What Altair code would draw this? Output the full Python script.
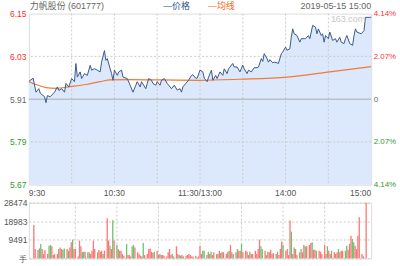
import altair as alt
import pandas as pd

# ---------------- data ----------------
prev_close = 5.91
price_lo, price_hi = 5.6653, 6.1547
price_ticks = [5.6653, 5.78765, 5.91, 6.03235, 6.1547]
grid_minutes = [30, 60, 90, 120, 150, 180, 210]
x_tick_minutes = [0, 60, 120, 180, 240]
x_tick_labels = ["9:30", "10:30", "11:30/13:00", "14:00", "15:00"]

price_min = [0, 3, 5, 7, 8, 11, 12, 13, 15, 18, 20, 21, 23, 25, 26, 28, 30, 32, 33, 34,
             36, 37, 39, 41, 43, 44, 46, 48, 50, 51, 53, 54, 55, 57, 58, 59, 60, 62, 63, 65,
             66, 69, 71, 73, 75, 76, 78, 79, 82, 83, 84, 86, 87, 89, 90, 92, 93, 95, 97, 98,
             100, 102, 104, 106, 107, 108, 110, 112, 114, 115, 117, 118, 120, 122, 123, 125, 126, 128, 129, 131,
             132, 134, 136, 137, 139, 140, 143, 144, 146, 148, 150, 151, 153, 154, 156, 158, 160, 161, 163, 164,
             165, 167, 168, 169, 171, 172, 174, 175, 177, 178, 180, 181, 183, 184, 185, 186, 188, 190, 191, 193,
             194, 196, 197, 199, 201, 202, 203, 205, 206, 207, 208, 210, 211, 213, 215, 216, 218, 219, 221, 222,
             223, 225, 227, 228, 229, 230, 233, 235, 236, 239, 240]
price_val = [5.961, 5.970, 5.930, 5.940, 5.927, 5.917, 5.900, 5.920, 5.917, 5.930, 5.945, 5.935, 5.940, 5.930, 5.955, 5.945, 5.969, 5.960, 6.012, 5.973,
             5.988, 5.969, 5.983, 5.978, 6.007, 5.993, 5.997, 5.993, 5.988, 6.016, 6.049, 6.021, 6.026, 5.997, 5.983, 5.964, 5.993, 5.978, 5.988, 5.993,
             5.973, 5.969, 5.950, 5.930, 5.950, 5.960, 5.945, 5.960, 5.940, 5.955, 5.969, 5.964, 5.955, 5.950, 5.960, 5.950, 5.964, 5.969, 5.955, 5.950,
             5.940, 5.950, 5.936, 5.940, 5.930, 5.945, 5.955, 5.964, 5.978, 5.980, 5.970, 5.970, 5.993, 5.988, 5.970, 5.960, 5.973, 5.993, 5.964, 5.978,
             5.969, 5.988, 5.978, 5.997, 5.983, 5.997, 6.012, 6.002, 6.002, 5.988, 6.007, 5.997, 5.983, 5.993, 5.988, 6.000, 6.000, 6.002, 6.026, 6.018,
             6.040, 6.026, 6.016, 6.023, 6.014, 6.016, 6.014, 6.012, 6.040, 6.045, 6.059, 6.050, 6.054, 6.087, 6.111, 6.097, 6.092, 6.073, 6.083, 6.083,
             6.083, 6.092, 6.083, 6.121, 6.116, 6.097, 6.111, 6.092, 6.097, 6.073, 6.092, 6.083, 6.102, 6.078, 6.083, 6.073, 6.087, 6.073, 6.069, 6.083,
             6.092, 6.069, 6.064, 6.092, 6.111, 6.102, 6.097, 6.106, 6.144, 6.144, 6.144]

avg_min = [0, 5, 12, 19, 29, 40, 50, 57, 70, 92, 120, 148, 181, 211, 240]
avg_val = [5.960, 5.952, 5.943, 5.941, 5.946, 5.952, 5.960, 5.965, 5.966, 5.965, 5.964, 5.967, 5.973, 5.988, 6.003]

vol_max = 28474
vol_ticks = [0, 9491, 18983, 28474]
vol_min = [0, 1, 3, 4, 5, 6, 7, 8, 10, 11, 12, 13, 14, 15, 17, 18, 19, 20, 21, 22,
           24, 25, 26, 27, 28, 29, 30, 32, 33, 34, 35, 36, 37, 39, 40, 41, 42, 43, 44, 46,
           47, 48, 49, 50, 51, 53, 54, 55, 56, 57, 58, 60, 61, 62, 63, 64, 65, 67, 68, 69,
           70, 71, 72, 73, 75, 76, 77, 78, 79, 80, 82, 83, 84, 85, 86, 87, 89, 90, 91, 92,
           93, 94, 96, 97, 98, 99, 100, 101, 103, 104, 105, 106, 107, 108, 110, 111, 112, 113, 114, 115,
           117, 118, 119, 120, 121, 122, 123, 125, 126, 127, 128, 129, 130, 132, 133, 134, 135, 136, 137, 139,
           140, 141, 142, 143, 144, 146, 147, 148, 149, 150, 151, 153, 154, 155, 156, 157, 158, 160, 161, 162,
           163, 164, 165, 167, 168, 169, 170, 171, 172, 173, 175, 176, 177, 178, 179, 180, 182, 183, 184, 185,
           186, 187, 188, 189, 190, 192, 193, 194, 195, 196, 197, 199, 200, 201, 202, 203, 204, 206, 207, 208,
           210, 211, 212, 213, 214, 215, 217, 218, 219, 220, 221, 222, 223, 225, 226, 227, 228, 229, 230, 231,
           232, 233, 234, 235, 237, 238, 240]
vol_val = [17100, 4800, 4300, 5100, 7400, 4800, 2200, 4300, 2200, 6500, 6800, 6200, 1700, 2200, 2200, 4800, 5600, 4800, 4400, 5100,
           4800, 3900, 5600, 8200, 9600, 4800, 4800, 1000, 9100, 6200, 3100, 3400, 3400, 3100, 3100, 2200, 3900, 9100, 4800, 3100,
           4300, 3400, 3900, 2200, 3900, 20500, 9100, 6500, 4800, 19500, 9100, 6800, 4800, 3900, 3900, 2200, 1400, 7400, 1700, 1700,
           1000, 6200, 6800, 5600, 3100, 2200, 1400, 1000, 7900, 1700, 2200, 4800, 5100, 3400, 2700, 3400, 3900, 1700, 2200, 1700,
           1700, 1400, 1000, 3100, 4800, 1700, 2200, 1000, 6200, 2200, 1700, 1400, 1700, 1000, 1400, 1700, 2200, 1700, 1000, 1000,
           1400, 500, 1000, 6500, 2200, 3900, 3900, 1700, 3400, 2200, 3400, 1700, 3100, 2200, 2200, 3900, 2700, 3400, 3100, 2200,
           3100, 3900, 6800, 3100, 2200, 3100, 4800, 3900, 3900, 7400, 3100, 3900, 3400, 1700, 3400, 2200, 2200, 3900, 2200, 4800,
           9600, 6200, 4800, 3900, 1700, 3400, 3100, 4400, 2200, 2700, 2200, 3400, 1700, 4800, 8600, 6800, 3900, 4800, 1700, 19300,
           13700, 2200, 5600, 4800, 1700, 3100, 4800, 3100, 6800, 6200, 6200, 6800, 7900, 8200, 4400, 4400, 3900, 3900, 3400, 2200,
           6800, 2200, 6200, 3900, 2200, 3900, 3100, 2200, 3100, 4800, 3100, 3900, 3900, 3900, 6500, 4400, 7400, 11600, 9900, 8200,
           6500, 4800, 11600, 21000, 2200, 1000, 28474]
vol_dir = ["r", "r", "r", "g", "g", "r", "r", "r", "r", "g", "g", "r", "r", "r", "r", "g", "r", "r", "g", "g",
           "r", "g", "r", "r", "g", "r", "r", "r", "r", "r", "g", "g", "r", "r", "g", "r", "r", "r", "r", "g",
           "r", "r", "r", "g", "r", "r", "r", "g", "r", "g", "r", "g", "r", "g", "r", "r", "r", "g", "r", "r",
           "r", "g", "g", "r", "r", "r", "r", "r", "g", "r", "r", "r", "r", "r", "r", "g", "r", "r", "g", "r",
           "r", "r", "r", "r", "r", "r", "g", "r", "r", "r", "g", "g", "r", "r", "r", "r", "r", "r", "r", "r",
           "r", "r", "r", "r", "r", "g", "g", "r", "g", "r", "g", "r", "r", "g", "r", "r", "r", "g", "r", "r",
           "r", "g", "r", "r", "g", "r", "g", "r", "r", "g", "r", "r", "r", "r", "g", "r", "r", "r", "r", "r",
           "r", "g", "g", "r", "r", "g", "r", "r", "r", "r", "r", "g", "r", "r", "r", "g", "r", "r", "r", "r",
           "g", "r", "g", "r", "r", "r", "g", "r", "r", "g", "r", "r", "r", "g", "r", "r", "g", "r", "r", "r",
           "r", "r", "g", "r", "r", "g", "r", "r", "r", "g", "r", "r", "r", "g", "g", "r", "r", "r", "g", "g",
           "r", "r", "r", "r", "r", "r", "r"]

title_text = "力帆股份 (601777)"
legend_price = "—价格"
legend_avg = "—均线"
date_text = "2019-05-15 15:00"
watermark = "163.com"

# ---------------- styles ----------------
RED = "#ff3030"
GREEN = "#2f9a2f"
GRAY = "#666666"
LINE = "#3a5a8c"
AREA = "#dce8fb"
AVG = "#f07a3a"
GRID = "#cccccc"
BORDER = "#b4b4b4"
FONT = "Liberation Sans, Noto Sans CJK SC"

price_df = pd.DataFrame({"m": price_min, "p": price_val})
avg_df = pd.DataFrame({"m": avg_min, "p": avg_val})
vol_df = pd.DataFrame({"m": vol_min, "v": vol_val, "d": vol_dir})
vgrid_df = pd.DataFrame({"m": grid_minutes})
hgrid_df = pd.DataFrame({"p": [price_ticks[1], price_ticks[3]]})
zero_df = pd.DataFrame({"p": [prev_close]})
xlab_df = pd.DataFrame({"m": x_tick_minutes, "t": x_tick_labels})

xscale = alt.Scale(domain=[0, 240], nice=False, zero=False)
yscale = alt.Scale(domain=[price_lo, price_hi], nice=False, zero=False)

label_color = {
    "condition": [
        {"test": f"datum.value > {prev_close + 0.01}", "value": RED},
        {"test": f"datum.value < {prev_close - 0.01}", "value": GREEN},
    ],
    "value": GRAY,
}

area = alt.Chart(price_df).mark_area(color=AREA, opacity=1).encode(
    x=alt.X("m:Q", scale=xscale, axis=None),
    y=alt.Y("p:Q", scale=yscale,
            axis=alt.Axis(orient="left", values=price_ticks, format=".2f", labelColor=label_color,
                          ticks=False, domain=False, grid=False, labelFontSize=8.5, labelPadding=3,
                          minExtent=28, maxExtent=28, title=None)),
    y2=alt.datum(price_lo),
)

vgrid = alt.Chart(vgrid_df).mark_rule(color=GRID, strokeDash=[2, 2], strokeWidth=1).encode(
    x=alt.X("m:Q", scale=xscale, axis=None)
)
hgrid = alt.Chart(hgrid_df).mark_rule(color=GRID, strokeDash=[2, 2], strokeWidth=1).encode(
    y=alt.Y("p:Q", scale=yscale, axis=None)
)
zero_rule = alt.Chart(zero_df).mark_rule(color="#aaaaaa", strokeWidth=1).encode(
    y=alt.Y("p:Q", scale=yscale, axis=None)
)
avg_line = alt.Chart(avg_df).mark_line(color=AVG, strokeWidth=1.2, interpolate="monotone").encode(
    x=alt.X("m:Q", scale=xscale, axis=None),
    y=alt.Y("p:Q", scale=yscale, axis=None),
)
price_line = alt.Chart(price_df).mark_line(color=LINE, strokeWidth=1).encode(
    x=alt.X("m:Q", scale=xscale, axis=None),
    y=alt.Y("p:Q", scale=yscale,
            axis=alt.Axis(orient="right", values=price_ticks, labelColor=label_color,
                          labelExpr=f"abs(datum.value - {prev_close}) < 0.001 ? '0' : format(abs(datum.value - {prev_close}) / {prev_close} * 100, '.2f') + '%'",
                          ticks=False, domain=False, grid=False, labelFontSize=8, labelPadding=2,
                          minExtent=28, maxExtent=28, title=None)),
)

# time labels between the two panels, placed through the shared x scale
def xlab(rows, align):
    return alt.Chart(xlab_df.iloc[rows]).mark_text(
        align=align, baseline="middle", color="#555555", fontSize=8.5, font=FONT
    ).encode(x=alt.X("m:Q", scale=xscale, axis=None), y=alt.value(180), text="t:N")

xlabels = [xlab([0], "left"), xlab([1, 2, 3], "center"), xlab([4], "right")]

def txt(s, x, align, color, size=9, y=-8, baseline="middle"):
    return alt.Chart(pd.DataFrame({"t": [s]})).mark_text(
        align=align, baseline=baseline, color=color, fontSize=size, font=FONT
    ).encode(text="t:N", x=alt.value(x), y=alt.value(y))

header = [
    txt(title_text, 1, "left", GRAY),
    txt(legend_price, 135, "left", "#2a4f8a"),
    txt(legend_avg, 180, "left", "#f26a1b"),
    txt(date_text, 344, "right", GRAY),
    txt(watermark, 338, "right", "#c8c8c8", size=9, y=1, baseline="top"),
]

top = alt.layer(area, vgrid, hgrid, zero_rule, avg_line, price_line, *xlabels, *header).resolve_axis(
    y="independent"
).properties(width=344, height=172)

vgrid2 = alt.Chart(vgrid_df).mark_rule(color=GRID, strokeDash=[2, 2], strokeWidth=1).encode(
    x=alt.X("m:Q", scale=xscale, axis=None)
)
bars = alt.Chart(vol_df).mark_bar(size=1.3).encode(
    x=alt.X("m:Q", scale=xscale, axis=None),
    y=alt.Y("v:Q", scale=alt.Scale(domain=[0, vol_max], nice=False),
            axis=alt.Axis(values=vol_ticks, grid=True, gridDash=[2, 2], gridColor=GRID,
                          ticks=False, domain=False, labelFontSize=8.5, labelColor="#555555",
                          labelPadding=2, labelExpr="datum.value == 0 ? '手' : datum.value",
                          minExtent=28, maxExtent=28, title=None)),
    color=alt.Color("d:N", scale=alt.Scale(domain=["r", "g"], range=["#ff7474", "#6fc06f"]), legend=None),
)
bottom = alt.layer(vgrid2, bars).properties(width=344, height=56)

chart = alt.vconcat(top, bottom, spacing=18, bounds="flush").properties(
    padding={"left": 0, "top": 0, "right": 0, "bottom": 2}
).configure_view(stroke=BORDER, strokeWidth=1).configure_axis(
    labelFont=FONT
).configure(background="white")

chart.save("out.html", embed_options={"renderer": "svg", "actions": False})
